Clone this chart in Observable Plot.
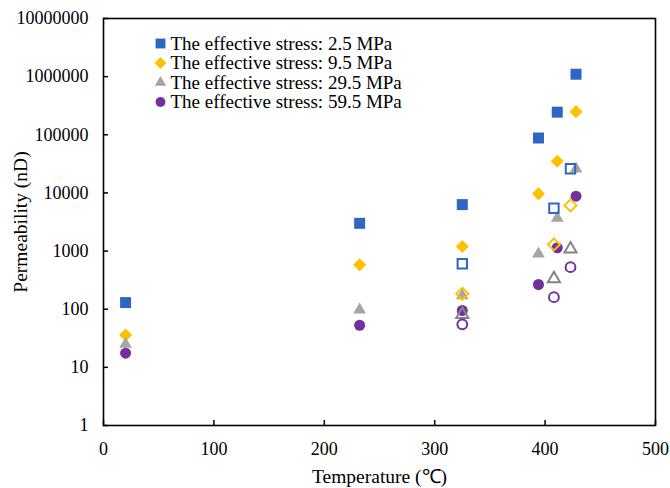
<!DOCTYPE html>
<html>
<head>
<meta charset="utf-8">
<script src="https://cdn.jsdelivr.net/npm/d3@7"></script>
<script src="https://cdn.jsdelivr.net/npm/@observablehq/plot@0.6"></script>
<style>
  html, body { margin: 0; padding: 0; background: white; }
</style>
</head>
<body>
<div id="chart"></div>
<script>
// Temperatures (°C)
const tempFilled = [20, 232, 325, 394, 411, 428];
const tempOpen = [325, 408, 423];

// Permeability (nD), filled markers
const k25 = [130, 3000, 6300, 88000, 245000, 1100000];
const k95 = [36, 580, 1200, 9700, 35000, 250000];
const k295 = [25, 98, 172, 900, 3700, 26000];
const k595 = [17.5, 53, 95, 266, 1140, 8800];

// Permeability (nD), open markers
const k25o = [605, 5460, 26000];
const k95o = [184, 1300, 6100];
const k295o = [81, 333, 1090];
const k595o = [55, 161, 528];

const legendLabels = [
  "The effective stress: 2.5 MPa",
  "The effective stress: 9.5 MPa",
  "The effective stress: 29.5 MPa",
  "The effective stress: 59.5 MPa"
];
const xTicks = [0, 100, 200, 300, 400, 500];
const yTicks = [1, 10, 100, 1000, 10000, 100000, 1000000, 10000000];

const colors = ["#2F66C2", "#FFC000", "#A5A5A5", "#7030A0"];
const openColors = ["#2F66C2", "#FFC000", "#858585", "#7030A0"];
const symbols = ["square", "diamond2", "triangle", "circle"];
const radii = [6.2, 5.9, 4.7, 5.5];
const openRadii = [5.3, 5.4, 4.5, 4.9];

const filledSeries = [k25, k95, k295, k595];
const openSeries = [k25o, k95o, k295o, k595o];

const font = "'Liberation Serif', 'Times New Roman', serif";

const dataMarks = [];
filledSeries.forEach((vals, s) => {
  const rows = tempFilled.map((t, i) => ({t, v: vals[i]}));
  dataMarks.push(Plot.dot(rows, {x: "t", y: "v", symbol: () => symbols[s], fill: colors[s], stroke: "none", r: radii[s]}));
});
openSeries.forEach((vals, s) => {
  const rows = tempOpen.map((t, i) => ({t, v: vals[i]}));
  dataMarks.push(Plot.dot(rows, {x: "t", y: "v", symbol: () => symbols[s], fill: "none", stroke: openColors[s], strokeWidth: 2, r: openRadii[s]}));
});

const legendMarks = [];
legendLabels.forEach((lab, s) => {
  legendMarks.push(Plot.dot([lab], {frameAnchor: "top-left", dx: 57, dy: 25 + s * 19.5, symbol: () => symbols[s], fill: colors[s], stroke: "none", r: radii[s] * 0.9}));
  legendMarks.push(Plot.text([lab], {frameAnchor: "top-left", dx: 67, dy: 25 + s * 19.5, text: d => d, textAnchor: "start", lineAnchor: "middle", fontSize: 19, fontFamily: font, fill: "black"}));
});

const chart = Plot.plot({
  width: 670,
  height: 488,
  marginLeft: 103,
  marginRight: 15,
  marginTop: 18,
  marginBottom: 63,
  style: {fontFamily: font, fontSize: "18px", color: "black", background: "white"},
  x: {domain: [0, 500]},
  y: {type: "log", domain: [1, 1e7]},
  symbol: {type: "identity"},
  marks: [
    Plot.axisX({ticks: xTicks, tickSize: 5, dy: -5, tickFormat: () => "", label: null, stroke: "black", strokeWidth: 1.5}),
    Plot.axisX({ticks: xTicks, tickSize: 0, tickPadding: 17, tickFormat: d => String(d), label: null, fontSize: 18, fontFamily: font}),
    Plot.axisY({ticks: yTicks, tickSize: 5, dx: 5, tickFormat: () => "", label: null, stroke: "black", strokeWidth: 1.5}),
    Plot.axisY({ticks: yTicks, tickSize: 0, tickPadding: 15, tickFormat: d => String(d), label: null, fontSize: 18, fontFamily: font}),
    Plot.frame({stroke: "black", strokeWidth: 1.6}),
    ...dataMarks,
    ...legendMarks,
    Plot.text(["Temperature (℃)"], {frameAnchor: "bottom", dy: 51, lineAnchor: "middle", textAnchor: "middle", text: d => d, fontSize: 19.5, fontFamily: font, fill: "black"}),
    Plot.text(["Permeability (nD)"], {frameAnchor: "left", dx: -83, rotate: -90, lineAnchor: "middle", textAnchor: "middle", text: d => d, fontSize: 19.5, fontFamily: font, fill: "black"})
  ]
});
document.getElementById("chart").appendChild(chart);
</script>
</body>
</html>
